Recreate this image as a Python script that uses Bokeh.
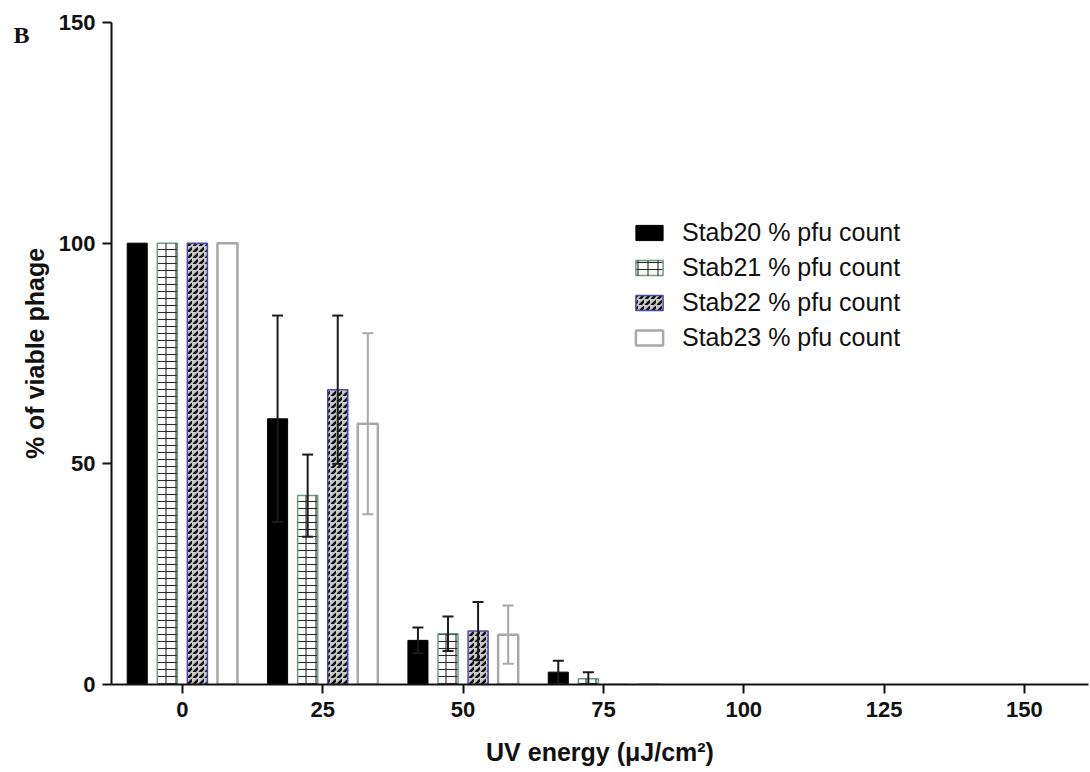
from bokeh.plotting import figure
from bokeh.models import (ColumnDataSource, Range1d, FixedTicker, Whisker, TeeHead,
                          Legend, LegendItem, Label)
from bokeh.embed import file_html
from bokeh.resources import INLINE

# ---------------- data ----------------
uv_energy = [0, 25, 50, 75]
series_names = ["Stab20 % pfu count", "Stab21 % pfu count",
                "Stab22 % pfu count", "Stab23 % pfu count"]
stab20 = [100, 60.2, 10.0, 2.8]
stab20_err = [0, 23.4, 2.9, 2.6]
stab21 = [100, 42.8, 11.5, 1.3]
stab21_err = [0, 9.3, 3.9, 1.5]
stab22 = [100, 66.8, 12.1, 0]
stab22_err = [0, 16.8, 6.6, 0]
stab23 = [100, 59.1, 11.3, 0]
stab23_err = [0, 20.5, 6.6, 0]
x_ticks = [0, 25, 50, 75, 100, 125, 150]
y_ticks = [0, 50, 100, 150]

# ---------------- layout ----------------
W, H = 1090, 772
p = figure(width=W, height=H, output_backend="svg", toolbar_location=None,
           x_range=Range1d(-12.62, 161.41), y_range=Range1d(0, 150),
           min_border_left=111, min_border_right=2, min_border_top=22,
           min_border_bottom=88)
p.outline_line_color = None
p.grid.visible = False
p.background_fill_color = "white"

group_step = 25.0
bar_step = group_step * 30.0 / 140.0
bar_w = group_step * 20.0 / 140.0
offsets = [(i - 1.5) * bar_step for i in range(4)]

values = [stab20, stab21, stab22, stab23]
errors = [stab20_err, stab21_err, stab22_err, stab23_err]
styles = [
    dict(fill_color="black", line_color="black", line_width=1),
    dict(fill_color="white", line_color="#6f9c80", line_width=1.5,
         hatch_pattern="horizontal_line", hatch_scale=7,
         hatch_weight=1.1, hatch_color="#2a2a2a"),
    dict(fill_color="#c8c8c8", line_color="#4a4aaa", line_width=1.5,
         hatch_pattern="right_diagonal_dash", hatch_scale=6,
         hatch_weight=2.6, hatch_color="#111111"),
    dict(fill_color="white", fill_alpha=0.0, line_color="#a8a8a8", line_width=2.5),
]
# second texture layer (vertical joints) giving the brick look of Stab21
overlay = {1: dict(fill_alpha=0.0, line_alpha=0.0, hatch_pattern="vertical_line",
                   hatch_scale=10, hatch_weight=1.1, hatch_color="#2a2a2a")}
err_colors = ["#1a1a1a", "#1a1a1a", "#1a1a1a", "#a8a8a8"]

legend_renderers = []
for i in range(4):
    xs = [u + offsets[i] for u in uv_energy]
    src = ColumnDataSource(dict(x=xs, top=values[i]))
    rs = [p.vbar(x="x", top="top", bottom=0, width=bar_w, source=src, **styles[i])]
    if i in overlay:
        rs.append(p.vbar(x="x", top="top", bottom=0, width=bar_w, source=src, **overlay[i]))
    legend_renderers.append(rs)

for i in range(4):
    wx, wu, wl = [], [], []
    for u, v, e in zip(uv_energy, values[i], errors[i]):
        if e > 0:
            wx.append(u + offsets[i])
            wu.append(v + e)
            wl.append(max(v - e, 0))
    ws = ColumnDataSource(dict(x=wx, upper=wu, lower=wl))
    c = err_colors[i]
    w = Whisker(source=ws, base="x", upper="upper", lower="lower", dimension="height",
                line_color=c, line_width=2, level="annotation",
                upper_head=TeeHead(size=11, line_color=c, line_width=2),
                lower_head=TeeHead(size=11, line_color=c, line_width=2))
    p.add_layout(w)

# ---------------- axes ----------------
for ax in (p.xaxis[0], p.yaxis[0]):
    ax.axis_line_width = 2
    ax.axis_line_color = "#111111"
    ax.major_tick_line_width = 2
    ax.major_tick_line_color = "#111111"
    ax.major_tick_out = 9
    ax.major_tick_in = 0
    ax.minor_tick_line_color = None
    ax.major_label_text_font = "Liberation Sans"
    ax.major_label_text_font_style = "bold"
    ax.major_label_text_font_size = "22px"
    ax.major_label_text_color = "#111111"
    ax.axis_label_text_font = "Liberation Sans"
    ax.axis_label_text_font_style = "bold"
    ax.axis_label_text_font_size = "25px"
    ax.axis_label_text_color = "#111111"

p.xaxis.ticker = FixedTicker(ticks=x_ticks, minor_ticks=[])
p.yaxis.ticker = FixedTicker(ticks=y_ticks, minor_ticks=[])
p.xaxis.axis_label = "UV energy (\u03bcJ/cm\u00b2)"
p.yaxis.axis_label = "% of viable phage"
p.xaxis.major_label_standoff = 8
p.xaxis.axis_label_standoff = 18
p.yaxis.major_label_standoff = 7
p.yaxis.axis_label_standoff = 7

# ---------------- legend ----------------
legend = Legend(items=[LegendItem(label=n, renderers=rs)
                       for n, rs in zip(series_names, legend_renderers)],
                location=(521, 332), glyph_width=34, glyph_height=19,
                label_standoff=16, spacing=6, padding=0, margin=0,
                label_text_font="Liberation Sans", label_text_font_size="25px",
                label_text_color="#111111",
                border_line_alpha=0, background_fill_alpha=0)
p.add_layout(legend)

# ---------------- panel letter (in the left side panel, outside the frame) ----------------
p.add_layout(Label(x=12, y=650, x_units="screen", y_units="screen", text="B",
                   text_font="Liberation Serif", text_font_style="bold",
                   text_font_size="24px", text_color="#111111",
                   text_align="left", text_baseline="alphabetic"), "left")

open("out.html", "w").write(file_html(p, INLINE))
